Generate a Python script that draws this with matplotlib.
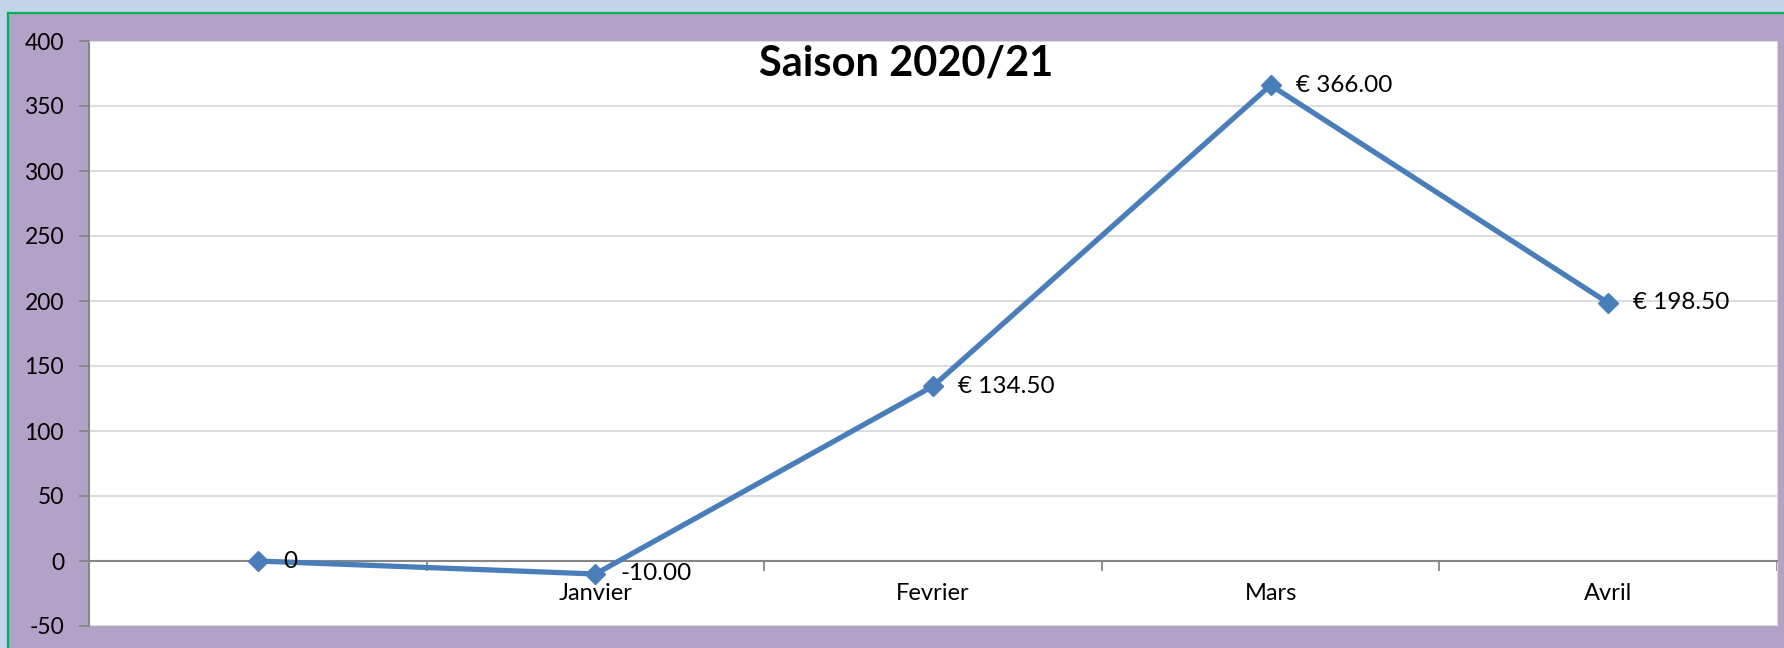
import matplotlib.pyplot as plt
import numpy as np
from matplotlib.patches import Rectangle
from matplotlib.lines import Line2D

plt.rcParams['font.family'] = ['Lato', 'DejaVu Sans']

# data
categories = ['', 'Janvier', 'Fevrier', 'Mars', 'Avril']
values = [0, -10.0, 134.5, 366.0, 198.5]
point_labels = ['0', '-10.00', '€ 134.50', '€ 366.00', '€ 198.50']
yticks = [-50, 0, 50, 100, 150, 200, 250, 300, 350, 400]

purple = '#b3a2c7'
line_blue = '#4a7ebb'

fig = plt.figure(figsize=(17.84, 6.48), dpi=100)
fig.patch.set_facecolor(purple)

# outer frame (light blue strip + green edge)
fig.add_artist(Rectangle((0, 1 - 12/648), 1, 12/648, transform=fig.transFigure,
                         facecolor='#c2d4ea', edgecolor='none'))
fig.add_artist(Rectangle((0, 0), 7/1784, 1, transform=fig.transFigure,
                         facecolor='#c2d4ea', edgecolor='none'))
fig.add_artist(Line2D([8/1784, 1], [1 - 13/648, 1 - 13/648], transform=fig.transFigure,
                      color='#00b050', lw=1.6))
fig.add_artist(Line2D([8/1784, 8/1784], [0, 1 - 13/648], transform=fig.transFigure,
                      color='#00b050', lw=1.6))

ax = fig.add_axes([89/1784, 1 - 626/648, (1777 - 89)/1784, (626 - 41)/648])
ax.set_facecolor('white')

x = np.arange(len(categories))
ax.plot(x, values, '-D', color=line_blue, lw=3.8, markersize=10, zorder=3)

for xi, v, lab in zip(x, values, point_labels):
    ax.annotate(lab, (xi, v), xytext=(18, 0), textcoords='offset points',
                ha='left', va='center', fontsize=17.5, color='black')

ax.set_xlim(-0.5, len(categories) - 0.5)
ax.set_ylim(-50, 400)
ax.set_yticks(yticks)
ax.set_yticklabels([str(t) for t in yticks])
ax.grid(axis='y', color='#d9d9d9', lw=1.3, zorder=0)

ax.set_xticks(x)
ax.set_xticklabels(categories)
ax.set_xticks(np.arange(len(categories) + 1) - 0.5, minor=True)
ax.tick_params(axis='x', which='major', length=0, pad=16, labelsize=17)
ax.tick_params(axis='x', which='minor', length=7, width=1.3, color='#868686', direction='out')
ax.tick_params(axis='y', length=7, width=1.3, color='#868686', pad=11, labelsize=16.5)

ax.spines['bottom'].set_position(('data', 0))
ax.spines['bottom'].set_color('#868686')
ax.spines['bottom'].set_linewidth(1.5)
ax.spines['left'].set_color('#868686')
ax.spines['left'].set_linewidth(1.5)
ax.spines['top'].set_color('#d9d9d9')
ax.spines['right'].set_color('#d9d9d9')

fig.text(906/1784, 1 - 75/648, 'Saison 2020/21', ha='center', va='baseline',
         fontsize=30, fontweight='bold')

fig.savefig('out.png', dpi=100, facecolor=fig.get_facecolor())
